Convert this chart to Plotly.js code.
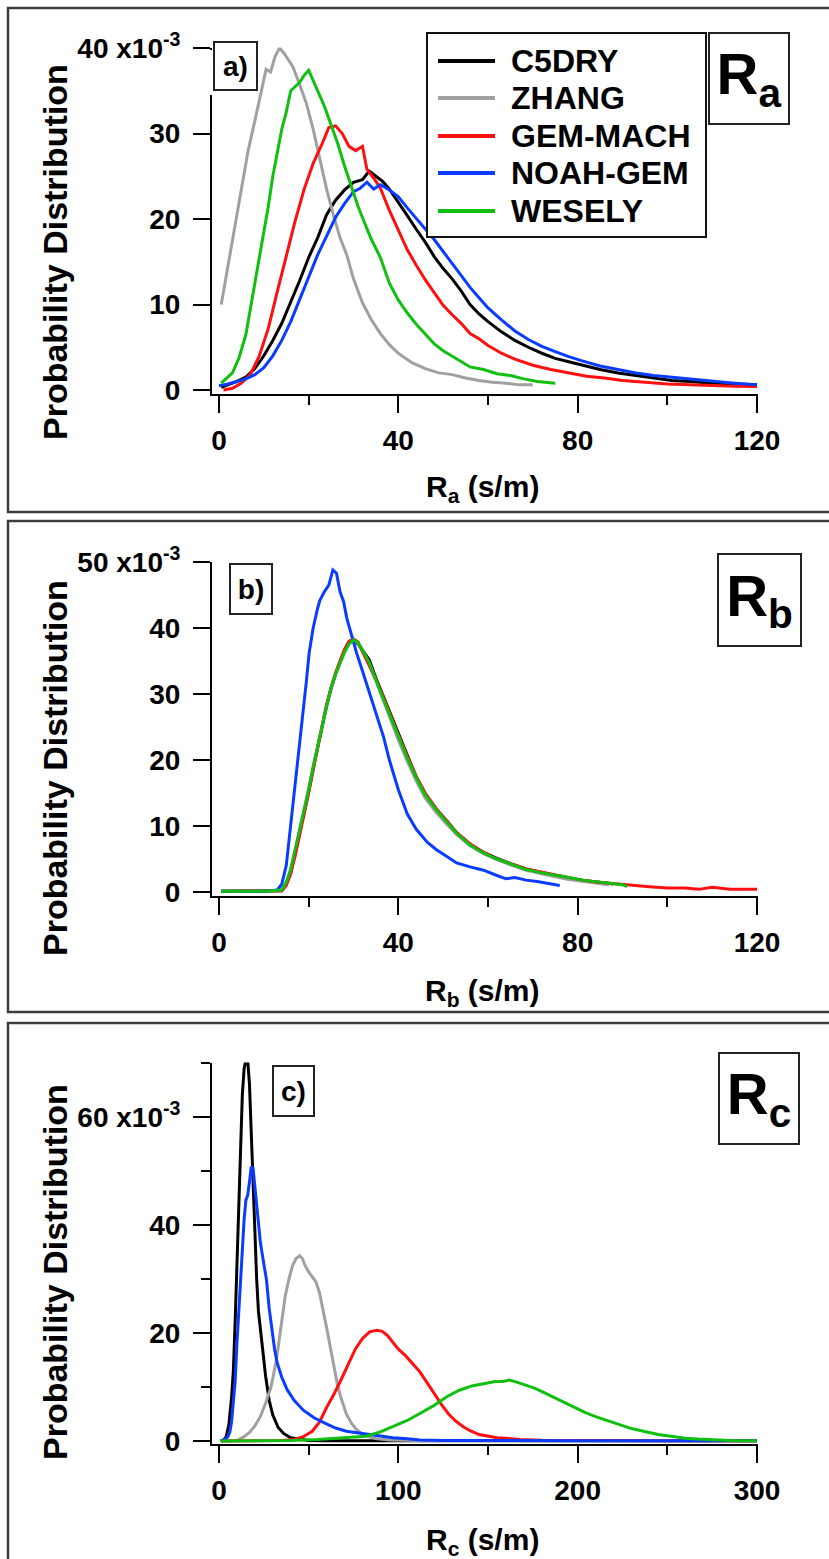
<!DOCTYPE html>
<html>
<head>
<meta charset="utf-8">
<script src="https://cdn.plot.ly/plotly-3.0.1.min.js"></script>
<style>html,body{margin:0;padding:0;background:#fff;}#chart{width:829px;height:1559px;}</style>
</head>
<body>
<div id="chart"></div>
<script>
// ---------------- DATA ----------------
const seriesNames = ['C5DRY', 'ZHANG', 'GEM-MACH', 'NOAH-GEM', 'WESELY'];

// Panel a) Ra (s/m), probability x10^-3
const a_C5DRY_x = [0.5, 2, 4, 6, 8, 10, 12, 14, 16, 18, 20, 22, 24, 26, 28, 30, 32, 33.5, 35, 36.5, 38, 40, 42, 44, 46, 48, 50, 52, 54, 56, 58, 60, 63, 66, 69, 72, 75, 78, 81, 85, 89, 93, 97, 101, 105, 110, 115, 120];
const a_C5DRY_y = [0.3, 0.6, 1.0, 1.5, 2.5, 4.0, 5.8, 7.8, 10.2, 12.8, 15.5, 17.8, 20.5, 22.2, 23.4, 24.3, 24.6, 25.6, 25.0, 24.4, 23.5, 22.0, 20.4, 18.8, 17.3, 15.6, 14.2, 13.0, 11.6, 10.0, 8.9, 8.0, 6.8, 5.8, 5.0, 4.3, 3.7, 3.3, 2.9, 2.4, 2.0, 1.7, 1.4, 1.1, 1.0, 0.8, 0.7, 0.6];
const a_ZHANG_x = [0.5, 1.5, 2.5, 3.5, 5, 6.5, 8, 9.5, 10.5, 11.5, 12.5, 13.5, 14.5, 15.5, 16.5, 18, 19.5, 21, 22.5, 24, 25.5, 27, 28.5, 30, 32, 34, 36, 38, 40, 43, 46, 49, 52, 55, 58, 61, 64, 67, 70];
const a_ZHANG_y = [10.0, 13.0, 16.2, 19.0, 23.5, 28.0, 31.5, 35.0, 37.5, 37.2, 39.0, 40.0, 39.4, 38.6, 37.8, 35.7, 33.5, 30.5, 27.0, 23.5, 20.5, 17.8, 15.8, 13.0, 10.2, 8.2, 6.6, 5.3, 4.3, 3.2, 2.5, 2.0, 1.8, 1.4, 1.1, 0.9, 0.8, 0.6, 0.6];
const a_GEMMACH_x = [1, 3, 5, 7, 9, 11, 13, 15, 17, 19, 21, 23, 24.5, 26, 27.5, 29, 30.5, 32, 33, 34.5, 36, 38, 40, 42, 44, 46, 48, 50, 52, 54, 56, 58, 60, 63, 66, 70, 74, 78, 82, 86, 90, 95, 100, 105, 110, 115, 120];
const a_GEMMACH_y = [0, 0.2, 0.8, 1.8, 4.0, 7.2, 11.5, 15.8, 19.8, 23.5, 26.5, 28.8, 30.7, 30.9, 30.0, 28.5, 28.0, 28.5, 25.8, 24.8, 23.6, 21.0, 18.6, 16.4, 14.6, 12.9, 11.4, 9.9, 8.8, 7.8, 6.6, 6.0, 5.2, 4.3, 3.6, 2.9, 2.4, 2.0, 1.6, 1.4, 1.1, 0.9, 0.7, 0.6, 0.5, 0.45, 0.4];
const a_NOAHGEM_x = [0, 2, 4, 6, 8, 10, 12, 14, 16, 18, 20, 22, 24, 26, 28, 30, 31.5, 33, 34.5, 36, 38, 40, 42, 44, 46, 48, 50, 52, 54, 56, 58, 60, 63, 66, 69, 72, 75, 78, 81, 85, 89, 93, 97, 101, 105, 110, 115, 120];
const a_NOAHGEM_y = [0.5, 0.7, 1.0, 1.3, 1.8, 2.6, 4.0, 5.8, 8.0, 10.6, 13.3, 15.8, 18.0, 20.2, 21.8, 23.2, 23.6, 24.3, 23.5, 24.0, 23.4, 22.6, 21.3, 20.1, 18.9, 17.6, 16.2, 14.8, 13.3, 12.0, 10.8, 9.6, 8.2, 6.9, 5.9, 5.1, 4.5, 3.9, 3.4, 2.8, 2.4, 2.0, 1.7, 1.5, 1.3, 1.0, 0.8, 0.6];
const a_WESELY_x = [0.5, 1.5, 3, 4.5, 6, 7, 8, 9, 10, 11, 12, 13, 14, 15, 16, 17, 18, 19, 20, 21, 22, 23.5, 25, 26.5, 28, 29.5, 31, 32.5, 34, 36, 38, 40, 42, 44, 46, 48, 50, 53, 56, 59, 62, 65, 68, 71, 75];
const a_WESELY_y = [0.8, 1.3, 2.0, 3.8, 6.5, 9.5, 12.5, 15.0, 18.0, 21.5, 25.0, 28.0, 30.5, 32.5, 35.0, 35.5, 36.0, 36.8, 37.4, 36.2, 35.0, 33.2, 31.0, 28.8, 26.2, 23.8, 21.5, 19.5, 17.6, 15.5, 12.5, 10.5, 9.0, 7.7, 6.6, 5.4, 4.6, 3.6, 2.7, 2.4, 1.9, 1.7, 1.3, 1.0, 0.8];

// Panel b) Rb (s/m)
const b_C5DRY_x = [0.5, 5, 10, 14, 15, 16, 17, 18, 19, 20, 21, 22, 23, 24, 25, 26, 27, 28, 29, 30, 31, 32, 33.5, 35, 36.5, 38, 40, 42, 44, 46, 48.5, 51, 53, 56, 59, 62, 65, 68.5, 72, 75, 78, 81, 84, 88];
const b_C5DRY_y = [0.1, 0.1, 0.1, 0.2, 1.2, 3.0, 6.0, 9.0, 12.2, 15.2, 18.7, 22.0, 25.2, 28.3, 30.8, 33.0, 34.8, 36.5, 37.8, 38.0, 37.6, 36.6, 35.2, 32.4, 29.9, 27.3, 23.8, 20.5, 17.4, 14.8, 12.5, 10.6, 9.0, 7.2, 6.0, 5.1, 4.3, 3.5, 3.0, 2.5, 2.1, 1.8, 1.5, 1.2];
const b_ZHANG_x = [0.5, 5, 10, 14, 15, 16, 17, 18, 19, 20, 21, 22, 23, 24, 25, 26, 27, 28, 29, 30, 31, 32, 33.5, 35, 36.5, 38, 40, 42, 44, 46, 48.5, 51, 53, 56, 59, 62, 65, 68.5, 72, 75, 78, 81, 84, 87];
const b_ZHANG_y = [0.1, 0.1, 0.1, 0.2, 1.3, 3.2, 6.2, 9.3, 12.4, 15.4, 18.8, 22.1, 25.3, 28.4, 30.9, 33.1, 34.9, 36.6, 37.7, 38.1, 37.7, 36.4, 34.5, 32.0, 29.3, 26.6, 23.0, 19.8, 16.8, 14.2, 12.0, 10.1, 8.7, 7.0, 5.8, 4.9, 4.1, 3.3, 2.7, 2.3, 1.9, 1.6, 1.4, 1.1];
const b_GEMMACH_x = [0.5, 5, 10, 14, 15, 16, 17, 18, 19, 20, 21, 22, 23, 24, 25, 26, 27, 28, 29, 30, 31, 32, 33.5, 35, 36.5, 38, 40, 42, 44, 46, 48.5, 51, 53, 56, 59, 62, 65, 68.5, 72, 75, 78, 81, 84, 87, 90, 93, 96, 100, 104, 107, 110, 114, 117, 120];
const b_GEMMACH_y = [0.1, 0.1, 0.1, 0.2, 1.0, 2.8, 5.5, 8.5, 11.8, 15.0, 18.5, 21.8, 25.0, 28.3, 31.0, 33.2, 35.0, 36.8, 38.0, 38.3, 37.9, 36.5, 34.2, 32.2, 29.8, 27.2, 23.8, 20.6, 17.5, 15.0, 12.6, 10.6, 9.0, 7.3, 6.0, 5.0, 4.3, 3.5, 3.0, 2.6, 2.1, 1.8, 1.5, 1.3, 1.1, 0.9, 0.8, 0.6, 0.6, 0.4, 0.7, 0.4, 0.4, 0.4];
const b_NOAHGEM_x = [0.5, 5, 10, 13, 14, 15, 16, 17, 17.7, 18.5, 19.5, 20.1, 21, 22, 22.5, 23.5, 24.5, 25.4, 26.2, 27, 27.8, 28.5, 29.5, 30.7, 32, 33.1, 34.3, 35.5, 36.7, 38, 40, 42, 44, 46.5, 48.5, 51, 53, 56, 59, 62, 64, 66, 68.5, 71, 74.5, 76];
const b_NOAHGEM_y = [0.1, 0.1, 0.1, 0.3, 1.2, 4.0, 10.0, 17.0, 21.0, 26.0, 32.0, 36.2, 40.0, 43.0, 44.2, 45.5, 46.5, 48.8, 48.3, 45.5, 44.0, 41.5, 39.0, 36.2, 33.5, 31.2, 28.7, 26.2, 23.5, 20.0, 15.5, 11.8, 9.5, 7.5, 6.4, 5.3, 4.4, 3.8, 3.3, 2.5, 2.0, 2.2, 1.8, 1.6, 1.2, 1.0];
const b_WESELY_x = [0.5, 5, 10, 14, 15, 16, 17, 18, 19, 20, 21, 22, 23, 24, 25, 26, 27, 28, 29, 30, 31, 32, 33.5, 35, 36.5, 38, 40, 42, 44, 46, 48.5, 51, 53, 56, 59, 62, 65, 68.5, 72, 75, 78, 81, 84, 87, 90, 91];
const b_WESELY_y = [0.1, 0.1, 0.1, 0.3, 1.5, 3.5, 6.5, 9.5, 12.5, 15.5, 19.0, 22.0, 25.5, 28.5, 31.0, 33.0, 34.6, 36.3, 37.6, 38.2, 37.8, 36.7, 34.8, 32.0, 29.5, 27.0, 23.5, 20.3, 17.3, 14.7, 12.4, 10.5, 8.9, 7.1, 5.9, 5.0, 4.3, 3.4, 2.9, 2.6, 2.2, 1.8, 1.6, 1.4, 1.1, 0.8];

// Panel c) Rc (s/m)
const c_C5DRY_x = [1, 3, 4, 5.5, 7, 8, 9, 10, 11, 12, 13, 14, 15, 16, 17, 18, 19, 20, 21, 22, 24, 26, 28, 30, 33, 36, 40, 45, 50, 60, 100, 150, 200, 250, 300];
const c_C5DRY_y = [0, 0.3, 0.8, 3, 8, 13, 22, 33, 45, 56, 64, 69, 70.5, 70.5, 66, 57, 47, 37, 30, 24, 18, 12, 7.5, 4.8, 2.5, 1.4, 0.6, 0.3, 0.1, 0.05, 0.05, 0.05, 0.05, 0.05, 0.05];
const c_ZHANG_x = [1, 10, 14, 17, 20, 23, 26, 29, 32, 35, 37, 39, 41, 43, 45, 46.5, 48, 50, 52, 54, 56, 58, 60, 62, 64, 66, 68, 71, 74, 77, 80, 83, 88, 95, 110, 150, 200, 250, 280];
const c_ZHANG_y = [0, 0.1, 0.8, 1.6, 2.8, 4.5, 7, 10, 15, 22, 27, 30, 32.5, 33.8, 34.3, 33.8, 32.5, 31.3, 30.5, 29.5, 27.5, 24.5, 21, 17.5, 14, 10.5, 8, 5, 3.2, 2, 1.3, 0.8, 0.4, 0.2, 0.1, 0.05, 0.05, 0.05, 0.05];
const c_GEMMACH_x = [1, 20, 35, 42, 47, 52, 56, 60, 64, 68, 72, 76, 80, 84, 88, 91, 94, 97, 100, 104, 108, 112, 116, 120, 124, 128, 132, 136, 140, 145, 150, 155, 160, 168, 180, 200, 250, 300];
const c_GEMMACH_y = [0, 0, 0.1, 0.3, 0.8, 1.8, 3.5, 6.2, 8.6, 11.3, 14.3, 17, 19, 20.2, 20.5, 20.3, 19.5, 18.2, 17, 15.8, 14.2, 12.8, 10.8, 8.7, 6.8, 5.0, 3.7, 2.7, 1.9, 1.2, 0.9, 0.6, 0.5, 0.3, 0.15, 0.1, 0.05, 0.05];
const c_NOAHGEM_x = [1, 3, 5, 6, 7, 8, 9, 10, 11, 12, 13, 14, 15, 16, 17, 18, 19, 20, 21, 22, 23, 24, 25, 26.5, 28, 29.5, 31, 32.5, 35, 38, 42, 47, 53, 59, 65, 71, 77, 83, 90, 97, 105, 112, 125, 150, 200, 250, 300];
const c_NOAHGEM_y = [0, 0.2, 0.8, 1.6, 3.5, 7, 11, 18, 24, 30, 36, 41, 44.6, 45.5, 48, 50.8, 50.5, 47, 43.5, 40, 37, 34.8, 32.5, 29.8, 24.5, 20.6, 17, 14.4, 11.8, 9.5, 7.5, 5.7, 4.3, 3.3, 2.4, 1.8, 1.5, 1.2, 0.9, 0.6, 0.4, 0.2, 0.1, 0.05, 0.05, 0.05, 0.05];
const c_WESELY_x = [1, 20, 40, 55, 65, 75, 82, 90, 97, 105, 112, 120, 127, 134, 141, 148, 154, 158, 162, 166, 171, 176, 181, 186, 192, 198, 204, 210, 216, 223, 230, 238, 245, 252, 260, 267, 275, 285, 300];
const c_WESELY_y = [0, 0, 0.1, 0.3, 0.5, 0.7, 0.9, 1.7, 2.7, 3.8, 5.1, 6.6, 8.2, 9.4, 10.2, 10.7, 11.0, 11.0, 11.3, 10.9, 10.4, 9.8, 9.0, 8.2, 7.3, 6.2, 5.3, 4.5, 3.8, 3.0, 2.3, 1.7, 1.2, 0.9, 0.5, 0.35, 0.2, 0.1, 0.05];

// Tick labels
const a_xTickVals = [0, 40, 80, 120];
const a_xMinor = [20, 60, 100];
const a_yTickVals = [0, 10, 20, 30, 40];
const a_yTickText = ['0', '10', '20', '30', '40 x10<sup>-3</sup>'];
const b_xTickVals = [0, 40, 80, 120];
const b_xMinor = [20, 60, 100];
const b_yTickVals = [0, 10, 20, 30, 40, 50];
const b_yTickText = ['0', '10', '20', '30', '40', '50 x10<sup>-3</sup>'];
const c_xTickVals = [0, 100, 200, 300];
const c_xMinor = [50, 150, 250];
const c_yTickVals = [0, 20, 40, 60];
const c_yTickText = ['0', '20', '40', '60 x10<sup>-3</sup>'];
const c_yMinor = [10, 30, 50, 70];

const panelLabels = ['a)', 'b)', 'c)'];
const bigLabels = ['R<sub>a</sub>', 'R<sub>b</sub>', 'R<sub>c</sub>'];
const xTitles = ['R<sub>a</sub> (s/m)', 'R<sub>b</sub> (s/m)', 'R<sub>c</sub> (s/m)'];
const yTitle = 'Probability Distribution';

// ---------------- STYLE / LAYOUT ----------------
const W = 829, H = 1559;
const fx = p => p / W;
const fy = p => 1 - p / H;
const FONT = 'Liberation Sans, Arial, Helvetica, sans-serif';
const colors = ['#000000', '#a0a0a0', '#ff1010', '#0a3cff', '#10c010'];

const panelData = [
  [[a_C5DRY_x, a_C5DRY_y], [a_ZHANG_x, a_ZHANG_y], [a_GEMMACH_x, a_GEMMACH_y], [a_NOAHGEM_x, a_NOAHGEM_y], [a_WESELY_x, a_WESELY_y]],
  [[b_C5DRY_x, b_C5DRY_y], [b_ZHANG_x, b_ZHANG_y], [b_GEMMACH_x, b_GEMMACH_y], [b_NOAHGEM_x, b_NOAHGEM_y], [b_WESELY_x, b_WESELY_y]],
  [[c_C5DRY_x, c_C5DRY_y], [c_ZHANG_x, c_ZHANG_y], [c_GEMMACH_x, c_GEMMACH_y], [c_NOAHGEM_x, c_NOAHGEM_y], [c_WESELY_x, c_WESELY_y]]
];

const traces = [];
panelData.forEach((series, p) => {
  const sfx = p === 0 ? '' : String(p + 1);
  series.forEach((s, i) => {
    traces.push({
      type: 'scatter', mode: 'lines',
      x: s[0], y: s[1], name: seriesNames[i],
      xaxis: 'x' + sfx, yaxis: 'y' + sfx,
      line: {color: colors[i], width: 3},
      showlegend: false, hoverinfo: 'skip'
    });
  });
});

const tickFont = {family: FONT, size: 28, color: '#000', weight: 700};
function axisBase(extra) {
  return Object.assign({
    showline: true, linewidth: 2, linecolor: '#000',
    ticks: 'outside', ticklen: 17, tickwidth: 2, tickcolor: '#000',
    showgrid: false, zeroline: false, mirror: false,
    tickfont: tickFont, tickmode: 'array', fixedrange: true
  }, extra);
}
function minor(vals) {
  return {tickmode: 'array', tickvals: vals, ticks: 'outside', ticklen: 9, tickwidth: 2, tickcolor: '#000', showgrid: false};
}

// geometry in px: x domain, y domain
const geo = [
  {xd: [212, 758], yd: [394, 47.5], xr: [-1.561, 120.22], yr: [-0.468, 40.06]},
  {xd: [212, 758], yd: [896, 561.5], xr: [-1.561, 120.22], yr: [-0.606, 50.08]},
  {xd: [212, 758], yd: [1444, 1062.5], xr: [-3.903, 300.56], yr: [-0.556, 70.09]}
];
const xt = [[a_xTickVals, a_xMinor], [b_xTickVals, b_xMinor], [c_xTickVals, c_xMinor]];
const yt = [[a_yTickVals, a_yTickText, null], [b_yTickVals, b_yTickText, null], [c_yTickVals, c_yTickText, c_yMinor]];

const layout = {
  width: W, height: H,
  margin: {l: 0, r: 0, t: 0, b: 0, pad: 0},
  paper_bgcolor: '#fff', plot_bgcolor: 'rgba(0,0,0,0)',
  showlegend: false,
  font: {family: FONT, color: '#000'},
  shapes: [], annotations: []
};

geo.forEach((g, p) => {
  const sfx = p === 0 ? '' : String(p + 1);
  layout['xaxis' + sfx] = axisBase({
    domain: [fx(g.xd[0]), fx(g.xd[1])], range: g.xr, anchor: 'y' + sfx,
    tickvals: xt[p][0], ticktext: xt[p][0].map(String), minor: minor(xt[p][1]),
    ticklabelstandoff: 3
  });
  const yax = axisBase({
    domain: [fy(g.yd[0]), fy(g.yd[1])], range: g.yr, anchor: 'x' + sfx,
    tickvals: yt[p][0], ticktext: yt[p][1], ticklabelstandoff: 7
  });
  if (yt[p][2]) yax.minor = minor(yt[p][2]);
  layout['yaxis' + sfx] = yax;
});

// Outer panel frames
const frames = [[8, 512], [521, 1012], [1023, 1580]];
frames.forEach(f => {
  layout.shapes.push({type: 'rect', xref: 'paper', yref: 'paper', layer: 'below',
    x0: fx(8), x1: fx(840), y0: fy(f[1]), y1: fy(f[0]), line: {color: '#3c3c3c', width: 2.5}, fillcolor: 'rgba(0,0,0,0)'});
});

// gap in panel a y-axis line behind the label box
layout.shapes.push({type: 'rect', xref: 'paper', yref: 'paper', layer: 'above',
  x0: fx(209.5), x1: fx(214.5), y0: fy(95), y1: fy(50), line: {width: 0}, fillcolor: '#fff'});

// Legend (panel a)
layout.shapes.push({type: 'rect', xref: 'paper', yref: 'paper', layer: 'above',
  x0: fx(427), x1: fx(706), y0: fy(237), y1: fy(33), line: {color: '#111', width: 2}, fillcolor: '#fff'});
const legRows = [61, 98, 136, 173, 211];
seriesNames.forEach((n, i) => {
  layout.shapes.push({type: 'line', xref: 'paper', yref: 'paper', layer: 'above',
    x0: fx(438), x1: fx(495), y0: fy(legRows[i]), y1: fy(legRows[i]), line: {color: colors[i], width: 4}});
  layout.annotations.push({xref: 'paper', yref: 'paper', x: fx(509), y: fy(legRows[i]), xanchor: 'left', yanchor: 'middle',
    text: n, showarrow: false, font: {family: FONT, size: 32, color: '#000', weight: 700}});
});

// Panel labels a) b) c)
const smallBoxes = [[235.5, 66, 45, 50], [251, 589, 44, 52], [293.5, 1091, 43, 52]];
smallBoxes.forEach((b, i) => {
  layout.annotations.push({xref: 'paper', yref: 'paper', x: fx(b[0]), y: fy(b[1]), xanchor: 'center', yanchor: 'middle',
    text: panelLabels[i], showarrow: false, width: b[2] - 4, height: b[3] - 4, borderpad: 0, borderwidth: 2,
    bordercolor: '#222', bgcolor: '#fff', font: {family: FONT, size: 28, color: '#000', weight: 700}});
});

// Big R labels
const bigBoxes = [[749, 78.5, 82, 93], [759.5, 600, 85, 94], [759, 1098.5, 82, 93]];
bigBoxes.forEach((b, i) => {
  layout.annotations.push({xref: 'paper', yref: 'paper', x: fx(b[0]), y: fy(b[1]), xanchor: 'center', yanchor: 'middle',
    text: bigLabels[i], showarrow: false, width: b[2] - 4, height: b[3] - 4, borderpad: 0, borderwidth: 2,
    bordercolor: '#222', bgcolor: '#fff', font: {family: FONT, size: 58, color: '#000', weight: 700}});
});

// Axis titles
const xTitleY = [488, 992, 1541];
xTitles.forEach((t, i) => {
  layout.annotations.push({xref: 'paper', yref: 'paper', x: fx(482), y: fy(xTitleY[i]), xanchor: 'center', yanchor: 'middle',
    text: t, showarrow: false, font: {family: FONT, size: 30, color: '#000', weight: 700}});
});
const yTitleY = [252, 768, 1272];
yTitleY.forEach(yc => {
  layout.annotations.push({xref: 'paper', yref: 'paper', x: fx(55), y: fy(yc), xanchor: 'center', yanchor: 'middle',
    text: yTitle, textangle: -90, showarrow: false, font: {family: FONT, size: 34, color: '#000', weight: 700}});
});

Plotly.newPlot('chart', traces, layout, {staticPlot: true, displayModeBar: false});
</script>
</body>
</html>
